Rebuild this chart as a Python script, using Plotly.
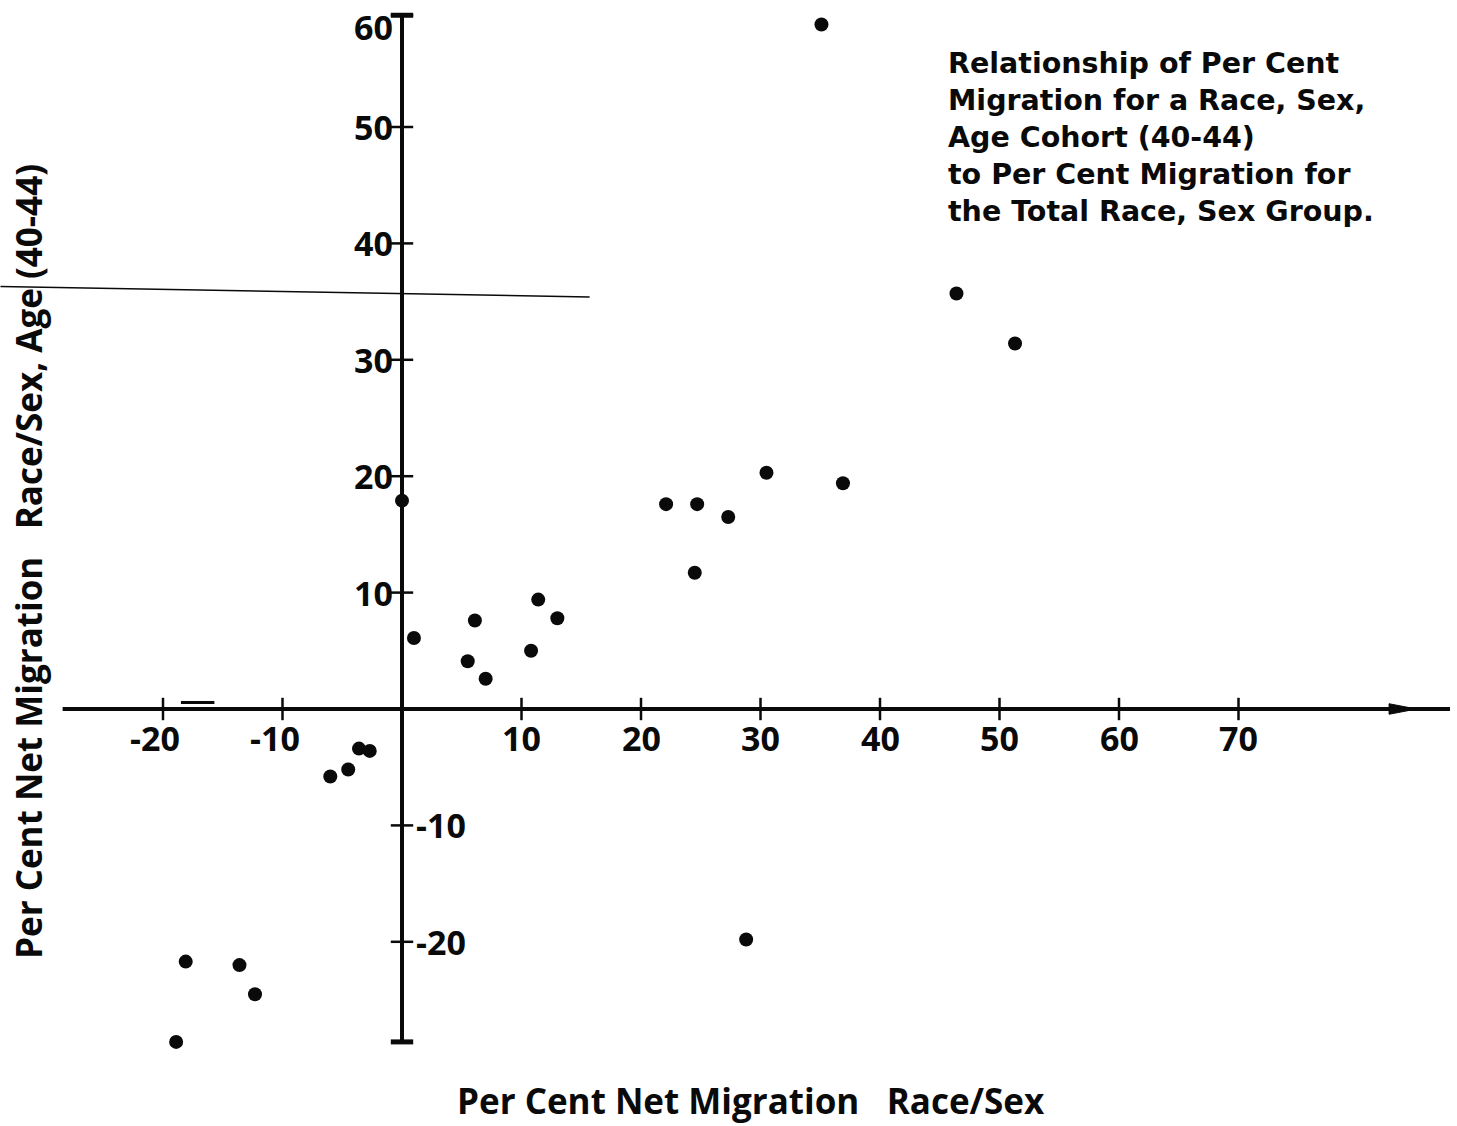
import plotly.graph_objects as go

# ---------------- data ----------------
x_values = [35.1, 46.4, 51.3, 30.5, 36.9, 22.1, 24.7, 27.3, 24.5,
            0.0, 1.0, 6.1, 5.5, 7.0, 11.4, 13.0, 10.8,
            -3.6, -2.7, -4.5, -6.0, 28.8, -18.1, -13.6, -12.3, -18.9]
y_values = [58.8, 35.7, 31.4, 20.3, 19.4, 17.6, 17.6, 16.5, 11.7,
            17.9, 6.1, 7.6, 4.1, 2.6, 9.4, 7.8, 5.0,
            -3.4, -3.6, -5.2, -5.8, -19.8, -21.7, -22.0, -24.5, -28.6]

x_ticks = [-20, -10, 10, 20, 30, 40, 50, 60, 70]
x_tick_labels = ["-20", "-10", "10", "20", "30", "40", "50", "60", "70"]
y_ticks = [-20, -10, 10, 20, 30, 40, 50, 60]
y_tick_labels = ["-20", "-10", "10", "20", "30", "40", "50", "60"]

title_lines = ["Relationship of Per Cent",
               "Migration for a Race, Sex,",
               "Age Cohort (40-44)",
               "to Per Cent Migration for",
               "the Total Race, Sex Group."]
x_title = "Per Cent Net Migration&nbsp;&nbsp;&nbsp;Race/Sex"
y_title = "Per Cent Net Migration&nbsp;&nbsp;&nbsp;Race/Sex, Age (40-44)"

# axis extents (data units)
X_AXIS_MIN, X_AXIS_MAX = -28.4, 87.7
ARROW_BASE, ARROW_TIP, ARROW_HALF = 82.6, 84.9, 0.45
Y_AXIS_MIN, Y_AXIS_MAX = -28.6, 59.6

W, H = 1457, 1126
FONT = "Open Sans"
INK = "#0a0a0a"

fig = go.Figure()

# axes as lines
fig.add_shape(type="line", x0=X_AXIS_MIN, x1=X_AXIS_MAX, y0=0, y1=0,
              line=dict(color=INK, width=4), layer="below")
fig.add_shape(type="line", x0=0, x1=0, y0=Y_AXIS_MIN, y1=Y_AXIS_MAX,
              line=dict(color=INK, width=4), layer="below")
# arrow head on the x axis
fig.add_shape(type="path",
              path=f"M {ARROW_BASE} {ARROW_HALF} L {ARROW_TIP} 0 L {ARROW_BASE} {-ARROW_HALF} Z",
              fillcolor=INK, line=dict(color=INK, width=1), layer="below")
# scanning stray lines
fig.add_shape(type="line", x0=-33.6, x1=15.7, y0=36.3, y1=35.4,
              line=dict(color=INK, width=1.6), layer="below")
fig.add_shape(type="line", x0=-18.5, x1=-15.7, y0=0.55, y1=0.55,
              line=dict(color=INK, width=3), layer="below")

# axis end caps
fig.add_trace(go.Scatter(x=[0, 0], y=[Y_AXIS_MIN, Y_AXIS_MAX], mode="markers",
                         marker=dict(symbol="line-ew", size=16,
                                     line=dict(color=INK, width=5)),
                         hoverinfo="skip", showlegend=False))

# tick marks
fig.add_trace(go.Scatter(x=x_ticks, y=[0] * len(x_ticks), mode="markers",
                         marker=dict(symbol="line-ns", size=16,
                                     line=dict(color=INK, width=2.5)),
                         hoverinfo="skip", showlegend=False))
fig.add_trace(go.Scatter(x=[0] * len(y_ticks), y=[min(v, Y_AXIS_MAX) for v in y_ticks],
                         mode="markers",
                         marker=dict(symbol="line-ew", size=16,
                                     line=dict(color=INK, width=2.5)),
                         hoverinfo="skip", showlegend=False))

# data points
fig.add_trace(go.Scatter(x=x_values, y=y_values, mode="markers",
                         marker=dict(size=14, color=INK),
                         showlegend=False))

tick_font = dict(family=FONT, size=34, color=INK, weight="bold")
annotations = []
for v, lab in zip(x_ticks, x_tick_labels):
    annotations.append(dict(x=v, y=0, xref="x", yref="y", text=lab,
                            showarrow=False, xanchor="center", yanchor="middle",
                            yshift=-29, xshift=-8 if v < 0 else 0, font=tick_font))
for v, lab in zip(y_ticks, y_tick_labels):
    if v > 0:
        annotations.append(dict(x=0, y=min(v, Y_AXIS_MAX), xref="x", yref="y", text=lab,
                                showarrow=False, xanchor="right", yanchor="middle",
                                xshift=-7, yshift=-12 if v > Y_AXIS_MAX else 0,
                                font=tick_font))
    else:
        annotations.append(dict(x=0, y=v, xref="x", yref="y", text=lab,
                                showarrow=False, xanchor="left", yanchor="middle",
                                xshift=12, font=tick_font))

# multi-line chart title (one text block, left aligned)
title_font = dict(family="DejaVu Sans", size=28.5, color=INK, weight="bold")
annotations.append(dict(x=946 / W, y=1 - 137 / H, xref="paper", yref="paper",
                        text="<br>".join(title_lines), showarrow=False,
                        xanchor="left", yanchor="middle", align="left",
                        font=title_font))

axis_title_font = dict(family=FONT, size=35, color=INK, weight="bold")
annotations.append(dict(x=751 / W, y=1 - 1100 / H, xref="paper", yref="paper",
                        text=x_title, showarrow=False, xanchor="center",
                        yanchor="middle", font=axis_title_font))
annotations.append(dict(x=28 / W, y=1 - 562 / H, xref="paper", yref="paper",
                        text=y_title, showarrow=False, xanchor="center",
                        yanchor="middle", textangle=-90, font=axis_title_font))

fig.update_layout(
    width=W, height=H,
    margin=dict(l=0, r=0, t=0, b=0),
    paper_bgcolor="white", plot_bgcolor="white",
    xaxis=dict(range=[(0 - 402) / 11.95, (W - 402) / 11.95], visible=False,
               fixedrange=True),
    yaxis=dict(range=[(709 - H) / 11.64, 709 / 11.64], visible=False,
               fixedrange=True),
    annotations=annotations,
    showlegend=False,
)

fig.write_html("out.html")
